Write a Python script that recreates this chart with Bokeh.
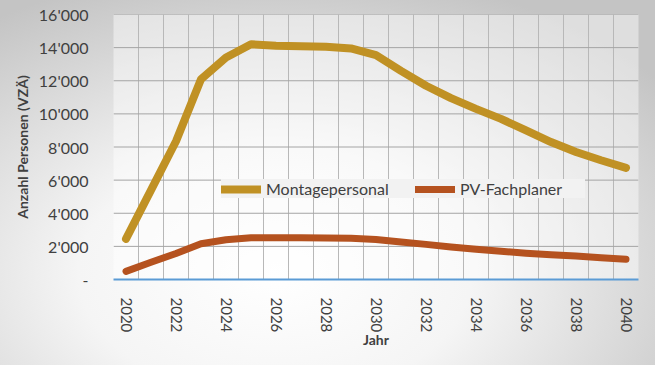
from bokeh.plotting import figure
from bokeh.models import FixedTicker, Legend, Range1d, Span
from bokeh.embed import file_html
from bokeh.resources import INLINE

years = list(range(2020, 2041))
montage = [2450, 5400, 8350, 12090, 13400, 14200, 14120, 14080, 14050, 13950,
           13550, 12600, 11700, 10950, 10300, 9700, 9000, 8300, 7700, 7200, 6740]
fachplaner = [490, 1040, 1570, 2160, 2400, 2520, 2520, 2520, 2510, 2490,
              2420, 2260, 2120, 1960, 1830, 1710, 1590, 1490, 1415, 1315, 1220]
series_names = ["Montagepersonal", "PV-Fachplaner"]
y_ticks = [0, 2000, 4000, 6000, 8000, 10000, 12000, 14000, 16000]
y_tick_labels = ["-", "2'000", "4'000", "6'000", "8'000", "10'000", "12'000", "14'000", "16'000"]
x_tick_years = list(range(2020, 2041, 2))

FONT = "Lato"
TXT = "#404040"

p = figure(width=655, height=365, output_backend="svg", toolbar_location=None,
           x_range=Range1d(years[0] - 0.5, years[-1] + 0.5),
           y_range=Range1d(y_ticks[0], y_ticks[-1]),
           min_border_left=113, min_border_right=17, min_border_top=14, min_border_bottom=86)
p.border_fill_color = None
p.background_fill_color = "white"
p.background_fill_alpha = 0.45
p.outline_line_color = None
p.styles = {"background": "radial-gradient(ellipse 75% 85% at 42% 75%, #ffffff 0%, #f5f5f5 40%, #c4c4c4 100%)"}

# vertical grid at category boundaries
p.xgrid.ticker = FixedTicker(ticks=[y - 0.5 for y in years] + [years[-1] + 0.5])
p.xgrid.grid_line_color = "#b8b8b8"
p.xgrid.grid_line_width = 1
p.xgrid.level = "glyph"
p.ygrid.visible = False
# horizontal grid lines at the y ticks
for t in y_ticks[1:]:
    p.add_layout(Span(location=t, dimension="width", line_color="#a4a4a4",
                      line_width=1, level="glyph"))

r1 = p.line(years, montage, line_color="#C09124", line_width=8, line_cap="round",
            line_join="round", level="annotation")
r2 = p.line(years, fachplaner, line_color="#B5521F", line_width=7, line_cap="round",
            line_join="round", level="annotation")

# x axis
p.xaxis.ticker = FixedTicker(ticks=x_tick_years)
p.xaxis.major_label_orientation = "vertical"
p.xaxis.major_tick_line_color = None
p.xaxis.minor_tick_line_color = None
p.xaxis.axis_line_color = "#5B9BD5"
p.xaxis.axis_line_width = 2
p.xaxis.major_label_standoff = 12
p.xaxis.major_label_text_font = FONT
p.xaxis.major_label_text_font_size = "15px"
p.xaxis.major_label_text_color = TXT
p.xaxis.axis_label = "Jahr"
p.xaxis.axis_label_text_font = FONT
p.xaxis.axis_label_text_font_style = "bold"
p.xaxis.axis_label_text_font_size = "14px"
p.xaxis.axis_label_text_color = TXT
p.xaxis.axis_label_standoff = -4

# y axis
p.yaxis.ticker = FixedTicker(ticks=y_ticks)
p.yaxis.major_label_overrides = {t: l for t, l in zip(y_ticks, y_tick_labels)}
p.yaxis.major_tick_line_color = None
p.yaxis.minor_tick_line_color = None
p.yaxis.axis_line_color = None
p.yaxis.major_label_standoff = 19
p.yaxis.major_label_text_font = FONT
p.yaxis.major_label_text_font_size = "16px"
p.yaxis.major_label_text_color = TXT
p.yaxis.axis_label = "Anzahl Personen (VZÄ)"
p.yaxis.axis_label_text_font = FONT
p.yaxis.axis_label_text_font_style = "bold"
p.yaxis.axis_label_text_font_size = "14px"
p.yaxis.axis_label_text_color = TXT
p.yaxis.axis_label_standoff = 5

legend = Legend(items=[(series_names[0], [r1]), (series_names[1], [r2])],
                orientation="horizontal", location=(108, 81),
                background_fill_color="#f2f2f2", background_fill_alpha=1,
                border_line_color=None, padding=7, spacing=24,
                glyph_width=40, glyph_height=18, label_standoff=5, label_width=125,
                label_text_font=FONT, label_text_font_size="16px", label_text_color=TXT)
p.add_layout(legend, "center")

open("out.html", "w").write(file_html(p, INLINE))
